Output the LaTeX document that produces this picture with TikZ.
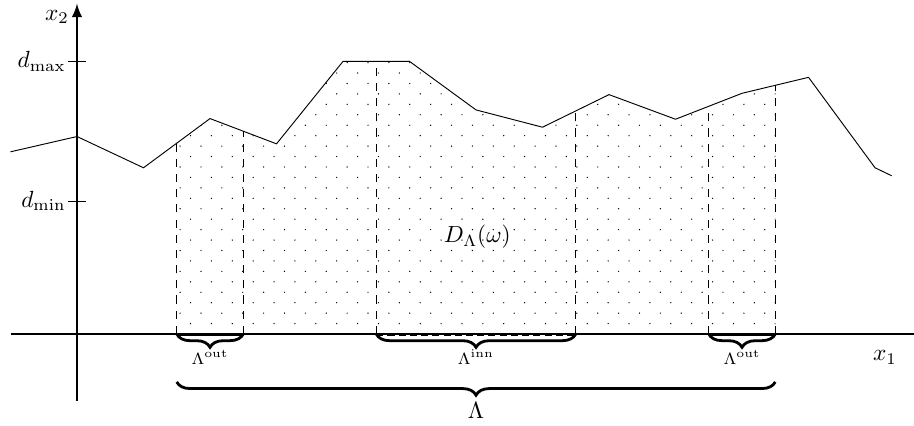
\documentclass[tikz,border=0pt]{standalone}
\usetikzlibrary{calc,decorations.pathreplacing}

\begin{document}
\begin{tikzpicture}[x=10mm, y=10mm,
    >=latex,   %Pfeilspitzen
    achse/.style={line width=1pt},
    strich/.style={dash pattern=on 3.5pt off 3pt, line width=0.4pt},
    balken/.style={line width=1.3pt},
    klammer/.style={decorate, decoration={brace, mirror, amplitude=#1}, line width=1.2pt},
    klammer/.default=2mm]
    \useasboundingbox (-1.158,-1.368) rectangle (12.586,5.023);
    \coordinate (o) at (0,0);
    \coordinate (u) at (0,-0.72);
    % Punkte der Kurve
    \foreach \x/\y [count=\k from 0] in {-1/2.74, 0/2.97, 1/2.5, 2/3.24, 3/2.86, 4/4.1, 5/4.1, 6/3.37, 7/3.11, 8/3.6, 9/3.23, 10/3.62, 11/3.86, 12/2.5, 12.25/2.38}
        \coordinate (p\k) at (\x,\y);
    % Grenzen der Teilmengen
    \coordinate (m1) at ($(p2)!.5!(p3)$);
    \coordinate (m2) at ($(p3)!.5!(p4)$);
    \coordinate (m3) at ($(p5)!.5!(p6)$);
    \coordinate (m4) at ($(p8)!.5!(p9)$);
    \coordinate (m5) at ($(p10)!.5!(p11)$);
    \coordinate (m6) at ($(p11)!.5!(p12)$);
    % Punktierte Flaeche
    \begin{scope}
        \clip (m1 |- o) -- (m1) -- (p3) -- (p4) -- (p5) -- (p6) -- (p7) -- (p8) -- (p9) -- (p10) -- (p11) -- (m6) -- (m6 |- o) -- cycle;
        \foreach \j in {1,...,26} \foreach \i in {0,...,29}
            \fill ({1.55+mod(\j,2)*0.157+\i*0.314},{\j*0.157}) circle (0.3pt);
    \end{scope}
    % Kurve zeichnen
    \draw[line width=0.4pt] (p0) \foreach \k in {1,...,14} {-- (p\k)};
    \foreach \m in {m1,m2,m3,m4,m5,m6} \draw[strich] (\m |- o) -- (\m);
    % Achsen zeichnen
    \draw[achse] (-1,0) -- (12.6,0);
    \draw[achse,->] (0,-1) -- (0,4.97);
    \node (xeins) at (12.15,-0.35) {$x_1$};
    \node (xzwei) at (-0.3,4.77) {$x_2$};
    \foreach \y/\n/\t in {4.1/dmax/\max, 2/dmin/\min} {
        \draw (-0.13,\y) -- (0.13,\y);
        \node[left, inner sep=1pt] (\n) at (-0.13,\y) {$d_{\t}$};
    }
    % Teilmengen auf der Achse
    \draw[balken] (m1 |- o) -- (m2 |- o);
    \draw[balken, dash pattern=on 3pt off 1.8pt] (m3 |- o) -- (m4 |- o);
    \draw[balken] (m5 |- o) -- (m6 |- o);
    % Klammern
    \draw[klammer] (m1 |- o) -- (m2 |- o) node[midway, yshift=-3.5mm] (aus1) {$\scriptstyle\Lambda^{\mathrm{out}}$};
    \draw[klammer] (m3 |- o) -- (m4 |- o) node[midway, yshift=-3.5mm] (innen) {$\scriptstyle\Lambda^{\mathrm{inn}}$};
    \draw[klammer] (m5 |- o) -- (m6 |- o) node[midway, yshift=-3.5mm] (aus2) {$\scriptstyle\Lambda^{\mathrm{out}}$};
    \draw[klammer] (m1 |- u) -- (m6 |- u) node[midway, yshift=-4.3mm] (lam) {$\Lambda$};
    %Beschriftung
    \node (flaeche) at (6.02,1.46) {$D_\Lambda(\omega)$};
\end{tikzpicture}
\end{document}
